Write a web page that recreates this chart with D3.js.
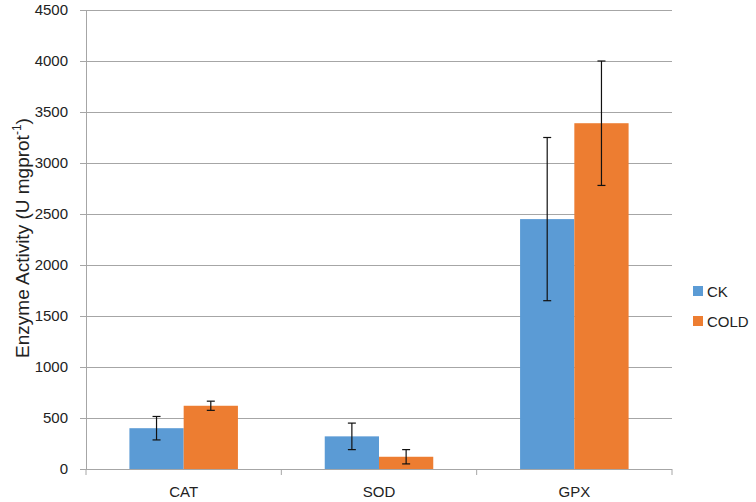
<!DOCTYPE html>
<html lang="en">
<head>
<meta charset="UTF-8">
<script src="https://cdnjs.cloudflare.com/ajax/libs/d3/7.8.5/d3.min.js"></script>
<style>
  body { margin: 0; background: #fff; }
  text { font-family: "Liberation Sans", Arial, sans-serif; fill: #222; }
</style>
</head>
<body>
<div id="chart"></div>
<script>
    var categories = ["CAT", "SOD", "GPX"];
    var seriesNames = ["CK", "COLD"];
    var ckValues = [400, 320, 2450];
    var ckErrors = [115, 130, 800];
    var coldValues = [620, 120, 3390];
    var coldErrors = [45, 70, 610];
    var yTicks = [0, 500, 1000, 1500, 2000, 2500, 3000, 3500, 4000, 4500];
    var colors = ["#5B9BD5", "#ED7D31"];

    var width = 756, height = 502;
    var plotLeft = 86, plotRight = 672, plotTop = 10, plotBottom = 469;

    var svg = d3.select("#chart").append("svg")
        .attr("width", width)
        .attr("height", height);

    var x = d3.scaleBand().domain(categories).range([plotLeft, plotRight]);
    // excel-ish gap width (about 160%)
    var inner = d3.scaleBand().domain(seriesNames)
        .range([0, x.bandwidth()])
        .paddingOuter(0.8)
        .paddingInner(0);
    var y = d3.scaleLinear().domain([0, 4500]).range([plotBottom, plotTop]);

    // gridlines
    svg.append("g").selectAll("line")
        .data(yTicks.slice(1))
        .enter().append("line")
        .attr("x1", plotLeft).attr("x2", plotRight)
        .attr("y1", function(d) { return Math.round(y(d)) + 0.5; })
        .attr("y2", function(d) { return Math.round(y(d)) + 0.5; })
        .attr("stroke", "#a6a6a6")
        .attr("stroke-width", 1);

    // y axis
    var yAxis = svg.append("g")
        .attr("transform", "translate(" + plotLeft + ",0)")
        .call(d3.axisLeft(y).tickValues(yTicks).tickSize(6).tickPadding(12).tickFormat(d3.format("d")));
    yAxis.select(".domain").attr("stroke", "#a6a6a6");
    yAxis.selectAll(".tick line").attr("stroke", "#a6a6a6");
    yAxis.selectAll("text").style("font-size", "15px").attr("fill", "#333");

    // bars
    var data = [];
    categories.forEach(function(c, i) {
        data.push({ cat: c, s: "CK", v: ckValues[i], e: ckErrors[i], col: colors[0] });
        data.push({ cat: c, s: "COLD", v: coldValues[i], e: coldErrors[i], col: colors[1] });
    });

    svg.append("g").selectAll("rect")
        .data(data)
        .enter().append("rect")
        .attr("x", function(d) { return x(d.cat) + inner(d.s); })
        .attr("width", inner.bandwidth())
        .attr("y", function(d) { return y(d.v); })
        .attr("height", function(d) { return y(0) - y(d.v); })
        .attr("fill", function(d) { return d.col; });

    // x axis
    svg.append("line")
        .attr("x1", plotLeft).attr("x2", plotRight)
        .attr("y1", plotBottom + 0.5).attr("y2", plotBottom + 0.5)
        .attr("stroke", "#a6a6a6");
    var bounds = [plotLeft].concat(categories.map(function(c) { return x(c) + x.bandwidth(); }));
    svg.append("g").selectAll("line")
        .data(bounds)
        .enter().append("line")
        .attr("x1", function(d) { return d; }).attr("x2", function(d) { return d; })
        .attr("y1", plotBottom).attr("y2", plotBottom + 6)
        .attr("stroke", "#a6a6a6");
    svg.append("g").selectAll("text")
        .data(categories)
        .enter().append("text")
        .attr("x", function(d) { return x(d) + x.bandwidth() / 2; })
        .attr("y", plotBottom + 28)
        .attr("text-anchor", "middle")
        .style("font-size", "15px")
        .attr("fill", "#333")
        .text(function(d) { return d; });

    // error bars
    var eb = svg.append("g").selectAll("g")
        .data(data)
        .enter().append("g")
        .attr("stroke", "#111")
        .attr("stroke-width", 1.2);
    function cx(d) { return x(d.cat) + inner(d.s) + inner.bandwidth() / 2; }
    eb.append("line")
        .attr("x1", cx).attr("x2", cx)
        .attr("y1", function(d) { return y(d.v + d.e); })
        .attr("y2", function(d) { return y(d.v - d.e); });
    eb.append("line")
        .attr("x1", function(d) { return cx(d) - 4; })
        .attr("x2", function(d) { return cx(d) + 4; })
        .attr("y1", function(d) { return y(d.v + d.e); })
        .attr("y2", function(d) { return y(d.v + d.e); });
    eb.append("line")
        .attr("x1", function(d) { return cx(d) - 4; })
        .attr("x2", function(d) { return cx(d) + 4; })
        .attr("y1", function(d) { return y(d.v - d.e); })
        .attr("y2", function(d) { return y(d.v - d.e); });

    // y title
    var title = svg.append("text")
        .attr("transform", "translate(29,238) rotate(-90)")
        .attr("text-anchor", "middle")
        .style("font-size", "19px")
        .attr("fill", "#111");
    title.append("tspan").text("Enzyme Activity (U mgprot");
    title.append("tspan").attr("dy", "-8").style("font-size", "12px").text("-1");
    title.append("tspan").attr("dy", "8").text(")");

    // legend
    var legend = svg.append("g").selectAll("g")
        .data(seriesNames)
        .enter().append("g")
        .attr("transform", function(d, i) { return "translate(693," + (286 + i * 30) + ")"; });
    legend.append("rect")
        .attr("width", 10).attr("height", 10)
        .attr("fill", function(d, i) { return colors[i]; });
    legend.append("text")
        .attr("x", 14).attr("y", 10.5)
        .style("font-size", "15px")
        .attr("fill", "#333")
        .text(function(d) { return d; });
</script>
</body>
</html>
